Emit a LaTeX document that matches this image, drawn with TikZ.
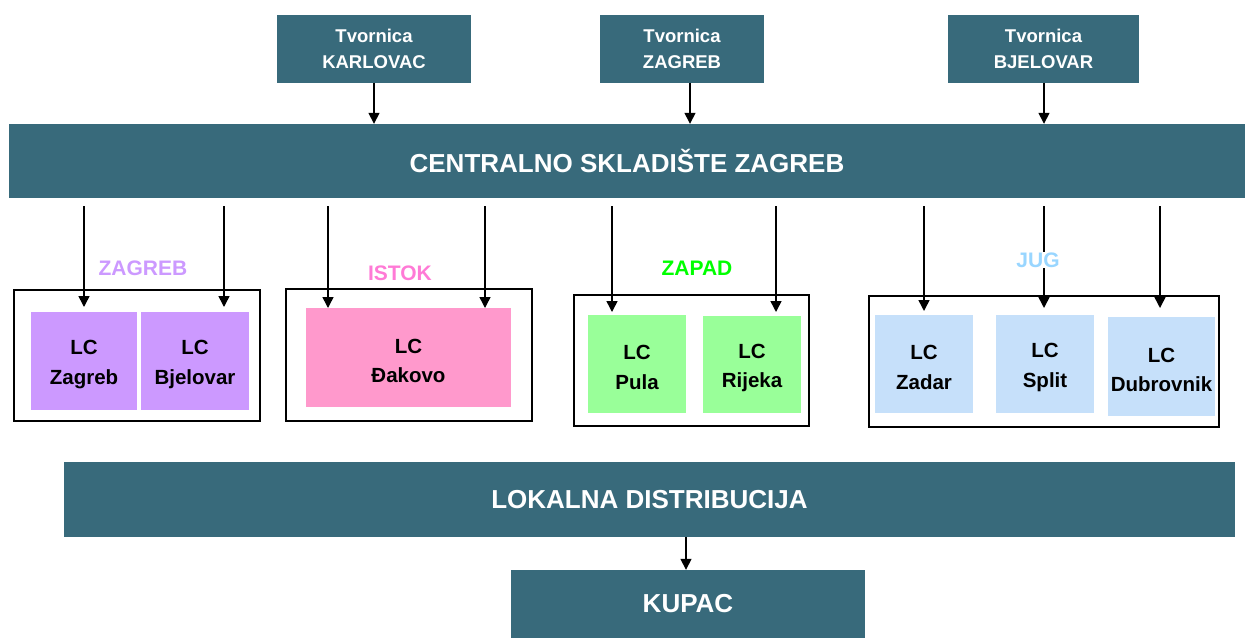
\documentclass[tikz,border=0pt]{standalone}
\usepackage{fontspec}
\setmainfont{Liberation Sans}
\usetikzlibrary{arrows.meta}
\definecolor{barcol}{HTML}{386A7B}
\definecolor{violetlc}{HTML}{CC99FF}
\definecolor{pinklc}{HTML}{FF99CC}
\definecolor{greenlc}{HTML}{99FF99}
\definecolor{bluelc}{HTML}{C6E0FA}
\tikzset{
  bar/.style={fill=barcol, text=white, align=center, inner sep=0pt,
    font=\bfseries\fontsize{26}{30}\selectfont},
  factory/.style={fill=barcol, text=white, align=center, inner sep=0pt,
    font=\bfseries\fontsize{18.5}{26}\selectfont},
  region/.style={draw=black, line width=1.8pt, inner sep=0pt},
  lc/.style={inner sep=0pt},
  lctext/.style={align=center, inner sep=0pt, yshift=-3.5pt,
    font=\bfseries\fontsize{20.5}{29.5}\selectfont},
  regionname/.style={font=\bfseries\fontsize{21}{24}\selectfont, inner sep=1pt},
  arr/.style={-{Triangle[length=11pt,width=11pt]}, line width=1.5pt}
}
\begin{document}
\begin{tikzpicture}[x=1pt,y=-1pt]
  \useasboundingbox (0,0) rectangle (1245,638);
  % tvornice
  \node[factory, minimum width=194, minimum height=68] (karlovac) at (374,48.5) {Tvornica\\KARLOVAC};
  \node[factory, minimum width=164, minimum height=68] (zagreb) at (682,48.5) {Tvornica\\ZAGREB};
  \node[factory, minimum width=191, minimum height=68] (bjelovar) at (1043.5,48.5) {Tvornica\\BJELOVAR};
  % skladiste
  \node[bar, minimum width=1236, minimum height=74] (cs) at (627,161) {CENTRALNO SKLADIŠTE ZAGREB};
  \coordinate (k1) at (374,82.5);
  \coordinate (k2) at (690,82.5);
  \coordinate (k3) at (1044,82.5);
  \foreach \k in {k1,k2,k3}
    \draw[arr] (\k) -- (\k |- cs.north);
  % regije
  \node[region, minimum width=246, minimum height=131] (fzagreb) at (137,355.5) {};
  \node[region, minimum width=246, minimum height=132] (fistok) at (409,355) {};
  \node[region, minimum width=235, minimum height=131] (fzapad) at (691.5,360.5) {};
  \node[region, minimum width=350, minimum height=131] (fjug) at (1044,361.5) {};
  % logisticki centri
  \node[lc, fill=violetlc, minimum width=106, minimum height=98,
    label={[lctext]center:{LC\\Zagreb}}] (lczagreb) at (84,361) {};
  \node[lc, fill=violetlc, minimum width=108, minimum height=98,
    label={[lctext]center:{LC\\Bjelovar}}] (lcbjelovar) at (195,361) {};
  \node[lc, fill=pinklc, minimum width=205, minimum height=99,
    label={[lctext]center:{LC\\Đakovo}}] (lcdakovo) at (408.5,357.5) {};
  \node[lc, fill=greenlc, minimum width=98, minimum height=98,
    label={[lctext]center:{LC\\Pula}}] (lcpula) at (637,364) {};
  \node[lc, fill=greenlc, minimum width=98, minimum height=97,
    label={[lctext]center:{LC\\Rijeka}}] (lcrijeka) at (752,364.5) {};
  \node[lc, fill=bluelc, minimum width=98, minimum height=98,
    label={[lctext]center:{LC\\Zadar}}] (lczadar) at (924,364) {};
  \node[lc, fill=bluelc, minimum width=98, minimum height=98,
    label={[lctext]center:{LC\\Split}}] (lcsplit) at (1045,364) {};
  \node[lc, fill=bluelc, minimum width=107, minimum height=99,
    label={[lctext]center:{LC\\Dubrovnik}}] (lcdubrovnik) at (1161.5,366.5) {};
  % strelice prema LC
  \coordinate (a1) at (84,307);
  \coordinate (a2) at (224,307);
  \coordinate (a3) at (328,308);
  \coordinate (a4) at (485,308);
  \coordinate (a5) at (612,312);
  \coordinate (a6) at (776,312);
  \coordinate (a7) at (924,311);
  \coordinate (a8) at (1044,308);
  \coordinate (a9) at (1160,308);
  \foreach \a in {a1,a2,a3,a4,a5,a6,a7,a8,a9}
    \draw[arr] ([yshift=-8pt]cs.south -| \a) -- (\a);
  \node[regionname, text=violetlc] (nzagreb) at (143,268) {ZAGREB};
  \node[regionname, text=pinklc!80!magenta] (nistok) at (400,273) {ISTOK};
  \node[regionname, text=green] (nzapad) at (697,268) {ZAPAD};
  \node[regionname, text=blue!40!cyan!40, fill=white] (njug) at (1038,260) {JUG};
  % distribucija
  \node[bar, minimum width=1171, minimum height=75] (ld) at (649.5,499.5) {LOKALNA DISTRIBUCIJA};
  \node[bar, minimum width=354, minimum height=68] (kupac) at (688,604) {KUPAC};
  \coordinate (d1) at (686,537);
  \draw[arr] (d1) -- (d1 |- kupac.north);
\end{tikzpicture}
\end{document}
